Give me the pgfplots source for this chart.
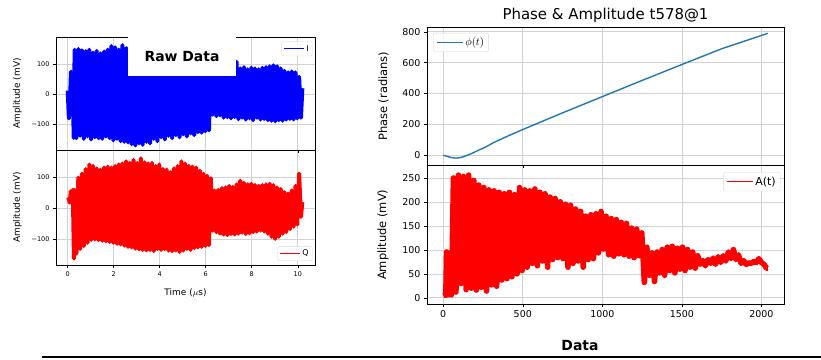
\documentclass[border=0pt]{standalone}
\usepackage{fontspec}
\setmainfont{DejaVu Sans}
\usepackage{pgfplots}
\pgfplotsset{compat=1.18}
\definecolor{mplblue}{HTML}{1F77B4}
\pgfplotsset{
  common/.style={
    scale only axis,
    grid=major,
    grid style={gray!35, line width=0.6pt},
    axis line style={black, line width=0.7pt},
    tick style={black, line width=0.5pt},
    tick align=outside,
    major tick length=3bp,
    tick pos=left,
    /pgf/number format/assume math mode=true,
    /pgf/number format/1000 sep={},
    legend cell align=left,
    legend style={draw=gray!30, rounded corners=2pt, fill=white, fill opacity=0.85, text opacity=1},
  },
  leftax/.style={common,
    width=259bp, height=113bp,
    xmin=-0.51, xmax=10.75, ymin=-185, ymax=190,
    xtick={0,2,4,6,8,10},
    ytick={-100,0,100}, yticklabels={−100,0,100},
    tick label style={font=\fontsize{6.5}{7}\selectfont},
    label style={font=\fontsize{9}{10}\selectfont},
    ylabel={Amplitude (mV)},
    ylabel shift=3bp,
    legend style={font=\fontsize{8}{9}\selectfont, inner sep=1.5pt},
  },
  rightax/.style={common,
    width=357bp, height=138.5bp,
    xmin=-102, xmax=2142,
    xtick={0,500,1000,1500,2000},
    tick label style={font=\fontsize{9.5}{10}\selectfont},
    label style={font=\fontsize{11.5}{12}\selectfont},
    ylabel shift=7bp,
    legend style={font=\fontsize{11}{12}\selectfont, inner sep=2.5pt},
  },
}
\begin{document}
\begin{tikzpicture}
\useasboundingbox (0,0) rectangle (821bp,360bp);
% ---------- left top: I ----------
\begin{axis}[leftax, at={(56bp,210bp)}, anchor=south west,
  xticklabels={},
  legend image code/.code={\draw[blue, line width=1.2pt] (0bp,0bp) -- (20bp,0bp);},
  legend style={at={(0.99,0.96)}, anchor=north east}]
\addplot[blue, line width=4pt, line join=round, forget plot] coordinates {
(0,12) (0.05,-80) (0.1,-20) (0.14,75) (0.18,-10) (0.22,15) (0.26,-145)
(0.30,148) (0.38,-146) (0.46,150) (0.54,-138) (0.62,146) (0.70,-148) (0.78,143) (0.86,-140) (0.94,148) (1.02,-150)
(1.10,138) (1.18,-143) (1.26,144) (1.34,-146) (1.42,136) (1.50,-148) (1.58,142) (1.66,-140) (1.74,148) (1.82,-146)
(1.90,160) (1.98,-153) (2.06,156) (2.14,-148) (2.22,148) (2.30,-156) (2.38,163) (2.46,-158) (2.54,153) (2.62,-160)
(2.70,158) (2.78,-166) (2.86,156) (2.94,-170) (3.02,158) (3.10,-163) (3.18,156) (3.26,-168) (3.34,153) (3.42,-158)
(3.50,148) (3.58,-163) (3.66,150) (3.74,-148) (3.82,146) (3.90,-156) (3.98,148) (4.06,-143) (4.14,143) (4.22,-150)
(4.30,148) (4.38,-138) (4.46,140) (4.54,-146) (4.62,146) (4.70,-136) (4.78,138) (4.86,-143) (4.94,143) (5.02,-133)
(5.10,138) (5.18,-140) (5.26,136) (5.34,-130) (5.42,133) (5.50,-136) (5.58,128) (5.66,-126) (5.74,130) (5.82,-128)
(5.90,126) (5.98,-123) (6.06,123) (6.14,-120) (6.22,113) (6.30,-68) (6.38,86) (6.46,-73) (6.54,90) (6.62,-70)
(6.70,93) (6.78,-78) (6.86,88) (6.94,-76) (7.02,98) (7.10,-80) (7.18,103) (7.26,-76) (7.34,108) (7.42,-83)
(7.50,86) (7.58,-78) (7.66,90) (7.74,-84) (7.82,83) (7.90,-80) (7.98,88) (8.06,-86) (8.14,86) (8.22,-78)
(8.30,83) (8.38,-84) (8.46,88) (8.54,-82) (8.62,90) (8.70,-86) (8.78,93) (8.86,-88) (8.94,96) (9.02,-90)
(9.10,93) (9.18,-86) (9.26,86) (9.34,-88) (9.42,78) (9.50,-84) (9.58,73) (9.66,-82) (9.74,76) (9.82,-84)
(9.90,73) (9.98,-80) (10.06,58) (10.14,-78) (10.20,20)
};
\addlegendimage{blue}
\addlegendentry{I}
\end{axis}
\node[fill=white, inner sep=0pt, minimum width=108bp, minimum height=39bp,
  font=\bfseries\fontsize{14}{16}\selectfont] at (182bp,303.5bp) {Raw Data};
% ---------- left bottom: Q ----------
\begin{axis}[leftax, at={(56bp,95bp)}, anchor=south west,
  height=115bp,
  xlabel={Time ($\mu$s)},
  xlabel style={yshift=-5bp},
  legend image code/.code={\draw[red, line width=1.2pt] (0bp,0bp) -- (20bp,0bp);},
  legend style={at={(0.99,0.035)}, anchor=south east}]
\addplot[red, line width=4pt, line join=round, forget plot] coordinates {
(0,35) (0.05,30) (0.09,18) (0.13,55) (0.18,45) (0.22,60) (0.27,-164) (0.30,60)
(0.38,-148) (0.46,100) (0.54,-133) (0.62,113) (0.70,-123) (0.78,128) (0.86,-113) (0.94,143) (1.02,-103)
(1.10,138) (1.18,-102) (1.26,130) (1.34,-104) (1.42,126) (1.50,-106) (1.58,133) (1.66,-108) (1.74,136) (1.82,-110)
(1.90,133) (1.98,-113) (2.06,138) (2.14,-116) (2.22,143) (2.30,-118) (2.38,146) (2.46,-122) (2.54,153) (2.62,-126)
(2.70,148) (2.78,-128) (2.86,158) (2.94,-132) (3.02,148) (3.10,-134) (3.18,163) (3.26,-136) (3.34,150) (3.42,-138)
(3.50,146) (3.58,-136) (3.66,148) (3.74,-140) (3.82,138) (3.90,-133) (3.98,143) (4.06,-136) (4.14,128) (4.22,-133)
(4.30,126) (4.38,-138) (4.46,118) (4.54,-140) (4.62,130) (4.70,-138) (4.78,138) (4.86,-143) (4.94,153) (5.02,-138)
(5.10,146) (5.18,-133) (5.26,138) (5.34,-136) (5.42,136) (5.50,-130) (5.58,133) (5.66,-128) (5.74,123) (5.82,-126)
(5.90,113) (5.98,-123) (6.06,106) (6.14,-120) (6.22,98) (6.30,-73) (6.38,58) (6.46,-78) (6.54,60) (6.62,-83)
(6.70,66) (6.78,-86) (6.86,68) (6.94,-88) (7.02,73) (7.10,-84) (7.18,70) (7.26,-86) (7.34,78) (7.42,-83)
(7.50,90) (7.58,-80) (7.66,83) (7.74,-84) (7.82,78) (7.90,-82) (7.98,80) (8.06,-78) (8.14,76) (8.22,-76)
(8.30,73) (8.38,-73) (8.46,76) (8.54,-76) (8.62,78) (8.70,-83) (8.78,80) (8.86,-93) (8.94,76) (9.02,-100)
(9.10,68) (9.18,-93) (9.26,63) (9.34,-83) (9.42,53) (9.50,-78) (9.58,48) (9.66,-68) (9.74,58) (9.82,-60)
(9.90,73) (9.98,-53) (10.06,113) (10.14,-28) (10.20,20)
};
\addlegendimage{red}
\addlegendentry{Q}
\end{axis}
% ---------- right top: phase ----------
\begin{axis}[rightax, at={(427bp,194.5bp)}, anchor=south west,
  ymin=-66, ymax=831, ytick={0,200,400,600,800},
  xticklabels={},
  ylabel={Phase (radians)},
  title={Phase \& Amplitude t578@1},
  title style={font=\fontsize{15}{16}\selectfont, yshift=-5bp},
  legend image code/.code={\draw[mplblue, line width=1.5pt] (0bp,0bp) -- (26bp,0bp);},
  legend style={at={(0.017,0.957)}, anchor=north west}]
\addplot[mplblue, line width=1.4pt, forget plot] coordinates {
(0,0) (20,-5) (40,-12) (60,-16) (80,-18) (100,-16) (125,-10) (150,0) (175,10) (200,22)
(225,35) (250,46) (275,58) (312,80) (400,122) (500,167) (750,275) (1000,380) (1250,485)
(1500,588) (1750,690) (2040,790)
};
\addlegendimage{mplblue}
\addlegendentry{$\phi(t)$}
\end{axis}
% ---------- right bottom: amplitude ----------
\begin{axis}[rightax, at={(427bp,56bp)}, anchor=south west,
  ymin=-13, ymax=277, ytick={0,50,100,150,200,250},
  ylabel={Amplitude (mV)},
  legend image code/.code={\draw[red, line width=1.5pt] (0bp,0bp) -- (26bp,0bp);},
  legend style={at={(0.99,0.953)}, anchor=north east}]
\addplot[red, line width=5.5pt, line join=round, forget plot] coordinates {
(0,5) (8,6) (16,5) (21,96) (26,30) (31,66) (36,6) (44,7) (52,6)
(64,251) (80,12) (96,257) (112,30) (128,254) (144,17) (160,257) (176,20) (192,246) (208,16)
(224,236) (240,22) (256,231) (272,14) (288,226) (304,27) (320,224) (336,24) (352,221) (368,37)
(384,218) (400,40) (416,221) (432,44) (448,216) (464,50) (480,231) (496,57) (512,226) (528,64)
(544,224) (560,72) (576,228) (592,67) (608,221) (624,77) (640,218) (656,64) (672,211) (688,80)
(704,208) (720,84) (736,201) (752,82) (768,196) (784,64) (800,194) (816,72) (832,186) (848,77)
(864,181) (880,64) (896,171) (912,80) (928,174) (944,82) (960,176) (976,94) (992,181) (1008,102)
(1024,171) (1040,90) (1056,166) (1072,87) (1088,164) (1104,92) (1120,158) (1136,90) (1152,156) (1168,87)
(1184,146) (1200,84) (1216,144) (1232,88) (1248,136) (1264,32) (1280,106) (1296,47) (1312,94) (1328,34)
(1344,96) (1360,52) (1376,101) (1392,47) (1408,106) (1424,57) (1440,108) (1456,52) (1472,104) (1488,60)
(1504,106) (1520,57) (1536,101) (1552,64) (1568,96) (1584,62) (1600,88) (1616,70) (1632,78) (1648,67)
(1664,80) (1680,72) (1696,83) (1712,70) (1728,86) (1744,74) (1760,88) (1776,77) (1792,96) (1808,82)
(1824,101) (1840,80) (1856,90) (1872,72) (1888,78) (1904,70) (1920,73) (1936,72) (1952,76) (1968,74)
(1984,82) (2000,74) (2016,70) (2032,62) (2040,62)
};
\addlegendimage{red}
\addlegendentry{A(t)}
\end{axis}
\node[font=\bfseries\fontsize{14}{16}\selectfont] at (580bp,14bp) {Data};
\draw[black, line width=1.8pt] (42bp,3bp) -- (821bp,3bp);
\end{tikzpicture}
\end{document}
